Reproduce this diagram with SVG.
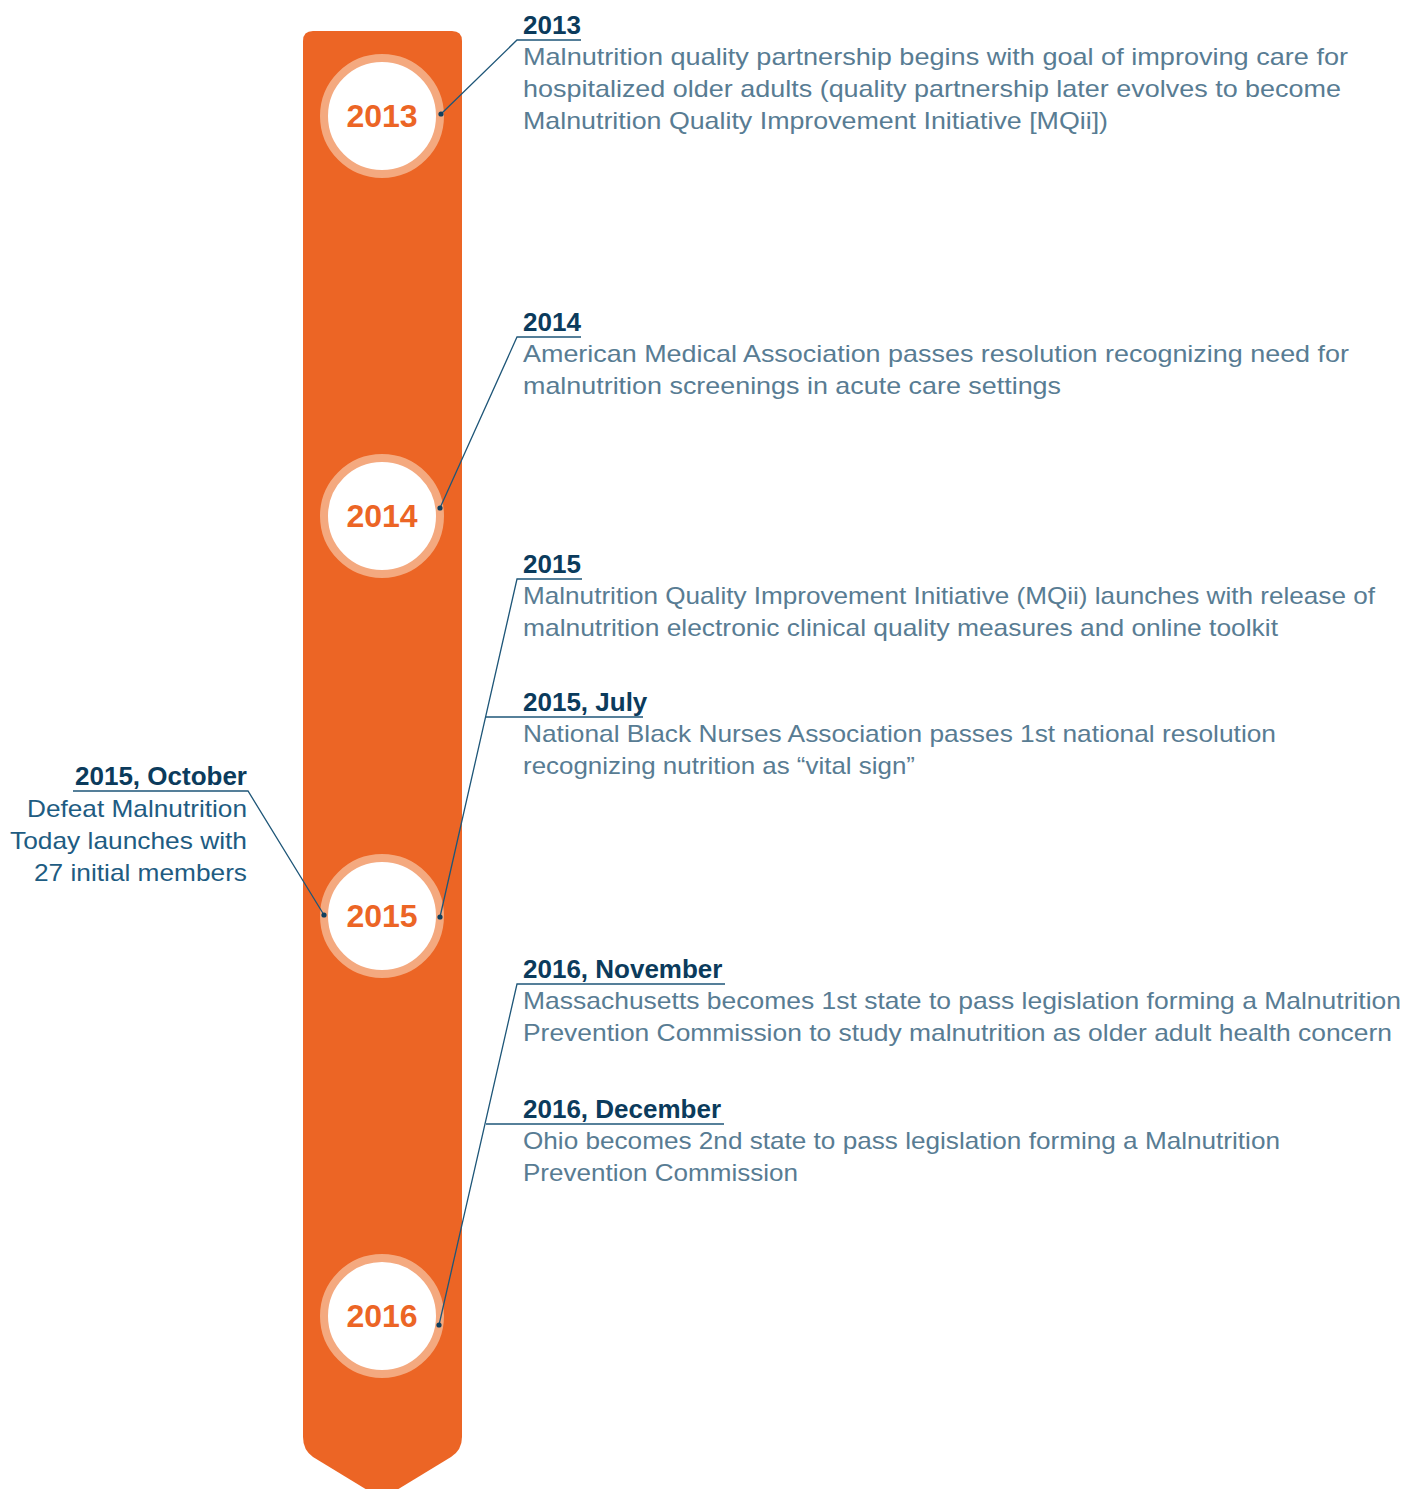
<svg xmlns="http://www.w3.org/2000/svg" width="1406" height="1489" viewBox="0 0 1406 1489">
<style>
.yr{font-family:"Liberation Sans",Arial,sans-serif;font-weight:bold;font-size:32px;fill:#EC6525;text-anchor:middle}
.hd{font-family:"Liberation Sans",Arial,sans-serif;font-weight:bold;font-size:26px;fill:#0B3B5C}
.bd{font-family:"Liberation Sans",Arial,sans-serif;font-size:24px;fill:#587C93}
.oc{font-family:"Liberation Sans",Arial,sans-serif;font-size:24px;fill:#1E5C82}
.ring{fill:#fff;stroke:#F4A97F;stroke-width:8}
.ln{fill:none;stroke:#1E5678;stroke-width:1.3}
.dot{fill:#0E3F5E}
</style>
<g id="bar">
<path d="M313,31 H452 Q462,31 462,41 V1437 Q462,1450 451,1457 L382,1499 L313,1457 Q303,1450 303,1437 V41 Q303,31 313,31 Z" fill="#EC6525"/>
</g>
<g id="node-2013"><circle class="ring" cx="382" cy="116" r="58"/><text class="yr" x="382" y="127">2013</text></g>
<g id="node-2014"><circle class="ring" cx="382" cy="516" r="58"/><text class="yr" x="382" y="527">2014</text></g>
<g id="node-2015"><circle class="ring" cx="382" cy="916" r="58"/><text class="yr" x="382" y="927">2015</text></g>
<g id="node-2016"><circle class="ring" cx="382" cy="1316" r="58"/><text class="yr" x="382" y="1327">2016</text></g>
<g id="connectors">
<polyline class="ln" points="441,114 517,40 581,40"/>
<polyline class="ln" points="440,508 517,337 581,337"/>
<polyline class="ln" points="440,917 517,579 582,579"/>
<line class="ln" x1="486" y1="717" x2="643" y2="717"/>
<polyline class="ln" points="439,1325 517,984 725,984"/>
<line class="ln" x1="486" y1="1124" x2="724" y2="1124"/>
<polyline class="ln" points="324,915 248,791 73,791"/>
<circle class="dot" cx="441" cy="114" r="2.6"/>
<circle class="dot" cx="440" cy="508" r="2.6"/>
<circle class="dot" cx="440" cy="917" r="2.6"/>
<circle class="dot" cx="439" cy="1325" r="2.6"/>
<circle class="dot" cx="324" cy="915" r="2.6"/>
</g>
<g id="event-2013">
<text class="hd" x="523" y="34">2013</text>
<text class="bd" x="523" y="65" textLength="825" lengthAdjust="spacingAndGlyphs">Malnutrition quality partnership begins with goal of improving care for</text>
<text class="bd" x="523" y="97" textLength="818" lengthAdjust="spacingAndGlyphs">hospitalized older adults (quality partnership later evolves to become</text>
<text class="bd" x="523" y="129" textLength="585" lengthAdjust="spacingAndGlyphs">Malnutrition Quality Improvement Initiative [MQii])</text>
</g>
<g id="event-2014">
<text class="hd" x="523" y="331">2014</text>
<text class="bd" x="523" y="362" textLength="826" lengthAdjust="spacingAndGlyphs">American Medical Association passes resolution recognizing need for</text>
<text class="bd" x="523" y="394" textLength="538" lengthAdjust="spacingAndGlyphs">malnutrition screenings in acute care settings</text>
</g>
<g id="event-2015">
<text class="hd" x="523" y="573">2015</text>
<text class="bd" x="523" y="604" textLength="852" lengthAdjust="spacingAndGlyphs">Malnutrition Quality Improvement Initiative (MQii) launches with release of</text>
<text class="bd" x="523" y="636" textLength="755" lengthAdjust="spacingAndGlyphs">malnutrition electronic clinical quality measures and online toolkit</text>
</g>
<g id="event-2015-july">
<text class="hd" x="523" y="711">2015, July</text>
<text class="bd" x="523" y="742" textLength="753" lengthAdjust="spacingAndGlyphs">National Black Nurses Association passes 1st national resolution</text>
<text class="bd" x="523" y="774" textLength="392" lengthAdjust="spacingAndGlyphs">recognizing nutrition as “vital sign”</text>
</g>
<g id="event-2015-october">
<text class="hd" x="247" y="785" text-anchor="end">2015, October</text>
<text class="oc" x="27" y="817" textLength="220" lengthAdjust="spacingAndGlyphs">Defeat Malnutrition</text>
<text class="oc" x="10" y="849" textLength="237" lengthAdjust="spacingAndGlyphs">Today launches with</text>
<text class="oc" x="34" y="881" textLength="213" lengthAdjust="spacingAndGlyphs">27 initial members</text>
</g>
<g id="event-2016-november">
<text class="hd" x="523" y="978">2016, November</text>
<text class="bd" x="523" y="1009" textLength="878" lengthAdjust="spacingAndGlyphs">Massachusetts becomes 1st state to pass legislation forming a Malnutrition</text>
<text class="bd" x="523" y="1041" textLength="869" lengthAdjust="spacingAndGlyphs">Prevention Commission to study malnutrition as older adult health concern</text>
</g>
<g id="event-2016-december">
<text class="hd" x="523" y="1118">2016, December</text>
<text class="bd" x="523" y="1149" textLength="757" lengthAdjust="spacingAndGlyphs">Ohio becomes 2nd state to pass legislation forming a Malnutrition</text>
<text class="bd" x="523" y="1181" textLength="275" lengthAdjust="spacingAndGlyphs">Prevention Commission</text>
</g>
</svg>
